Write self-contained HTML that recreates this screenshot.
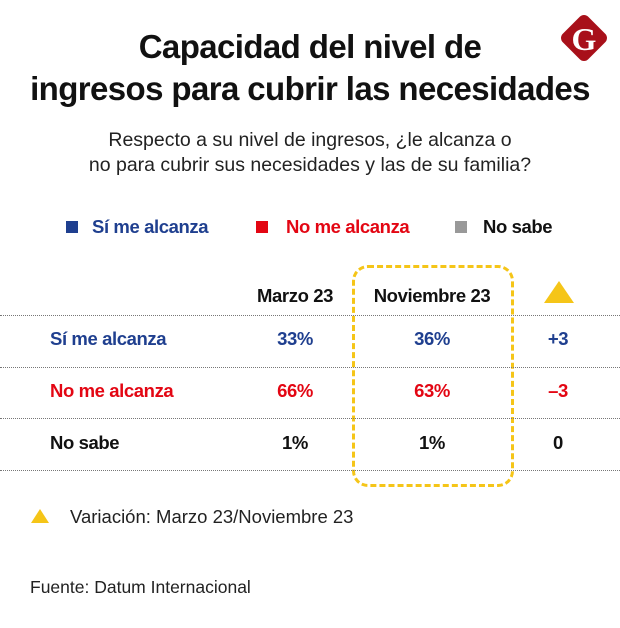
<!DOCTYPE html>
<html><head><meta charset="utf-8"><style>
body{margin:0;width:620px;height:628px;background:#fff;font-family:"Liberation Sans",sans-serif;position:relative;overflow:hidden}
.a{position:absolute;white-space:nowrap}
.t{font-weight:bold;font-size:33px;letter-spacing:-0.6px;color:#111;text-align:center;width:620px;left:0}
.b{font-weight:bold;font-size:18.5px;letter-spacing:-0.4px}
.c{text-align:center;transform:translateX(-50%)}
.line{position:absolute;left:0;width:620px;border-top:1px dotted #777;height:0}
.blue{color:#1f3f8f}.red{color:#e30613}.blk{color:#111}
</style></head><body>
<div class="a t" style="top:28px">Capacidad del nivel de</div>
<div class="a t" style="top:70px">ingresos para cubrir las necesidades</div>
<svg class="a" style="left:556px;top:10px" width="56" height="56"><rect x="10" y="10" width="36" height="36" rx="6" transform="rotate(45 28 28)" fill="#a8101a"/><text x="28" y="40" text-anchor="middle" font-family="Liberation Serif,serif" font-weight="bold" font-size="32" fill="#fff">G</text></svg>
<div class="a" style="left:0;width:620px;text-align:center;top:128px;font-size:19.5px;line-height:25px;color:#222">Respecto a su nivel de ingresos, ¿le alcanza o<br>no para cubrir sus necesidades y las de su familia?</div>
<div class="a" style="left:66px;top:221px;width:12px;height:12px;background:#1f3f8f"></div>
<div class="a b blue" style="left:92px;top:216px">Sí me alcanza</div>
<div class="a" style="left:256px;top:221px;width:12px;height:12px;background:#e30613"></div>
<div class="a b red" style="left:286px;top:216px">No me alcanza</div>
<div class="a" style="left:455px;top:221px;width:12px;height:12px;background:#999"></div>
<div class="a b blk" style="left:483px;top:216px">No sabe</div>
<div class="a" style="left:352px;top:265px;width:156px;height:216px;border:3px dashed #f5c518;border-radius:16px"></div>
<div class="a b blk c" style="left:295px;top:285px">Marzo 23</div>
<div class="a b blk c" style="left:432px;top:285px">Noviembre 23</div>
<svg class="a" style="left:543px;top:280px" width="32" height="24"><polygon points="16,1 31,23 1,23" fill="#f5c518"/></svg>
<div class="line" style="top:315px"></div>
<div class="line" style="top:367px"></div>
<div class="line" style="top:418px"></div>
<div class="line" style="top:470px"></div>
<div id="rows"></div>
<div class="a" style="left:31px;top:509px;width:0;height:0;border-left:9px solid transparent;border-right:9px solid transparent;border-bottom:14px solid #f5c518"></div>
<div class="a" style="left:70px;top:506px;font-size:18.5px;color:#222">Variación: Marzo 23/Noviembre 23</div>
<div class="a" style="left:30px;top:577px;font-size:17.5px;color:#222">Fuente: Datum Internacional</div>
<script>
const categories=["Sí me alcanza","No me alcanza","No sabe"];
const marzo=[33,66,1];
const noviembre=[36,63,1];
const variacion=["+3","–3","0"];
const classes=["blue","red","blk"];
const rows=document.getElementById('rows');
function add(txt,cls,x,y,center,name){const d=document.createElement('div');
d.className='a b '+cls+(center?' c':'');d.style.left=x+'px';d.style.top=y+'px';d.textContent=txt;


rows.appendChild(d);}
categories.forEach((c,i)=>{const y=328+i*52;
add(c,classes[i],50,y,false,'row-label');
add(marzo[i]+'%',classes[i],295,y,true,'value-marzo');
add(noviembre[i]+'%',classes[i],432,y,true,'value-noviembre');
add(variacion[i],classes[i],558,y,true,'value-variacion');});
</script>
</body></html>
